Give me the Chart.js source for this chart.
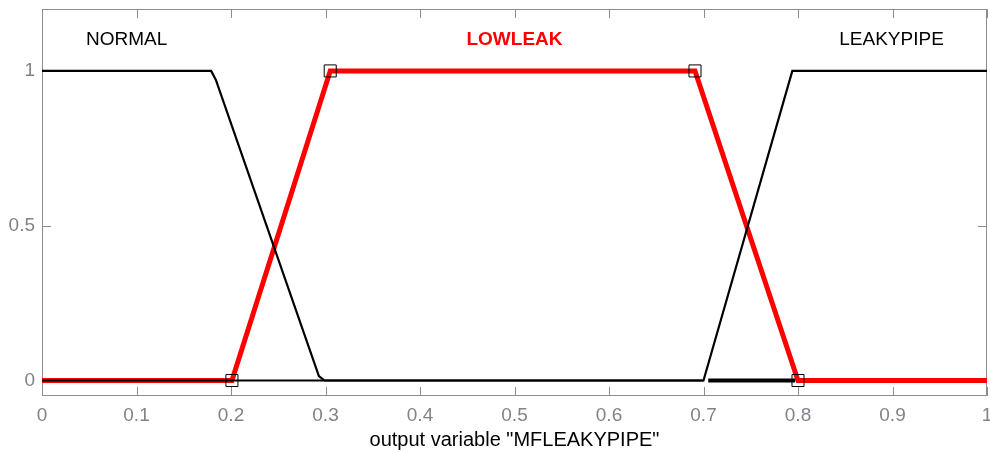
<!DOCTYPE html>
<html>
<head>
<meta charset="utf-8">
<script src="https://cdn.jsdelivr.net/npm/chart.js@4/dist/chart.umd.min.js"></script>
<style>
  html, body { margin: 0; padding: 0; background: #fff; }
  #mfChart { display: block; }
</style>
</head>
<body>
<canvas id="mfChart" width="990" height="452"></canvas>
<script>
// membership functions of output variable MFLEAKYPIPE
var normalX = [0, 0.179, 0.184, 0.293, 0.299, 0.7];
var normalY = [1, 1, 0.971, 0.014, 0, 0];
var leakyX = [0, 0.7, 0.794, 1];
var leakyY = [0, 0, 1, 1];
var lowleakX = [0, 0.201, 0.305, 0.691, 0.8, 1];
var lowleakY = [0, 0, 1, 1, 0, 0];
var markerX = [0.201, 0.305, 0.691, 0.8];
var markerY = [0, 1, 1, 0];
var boldX = [0.705, 0.797];
var boldY = [0, 0];

var xTicks = [0, 0.1, 0.2, 0.3, 0.4, 0.5, 0.6, 0.7, 0.8, 0.9, 1];
var yTicks = [0, 0.5, 1];

var mfNames = ["NORMAL", "LOWLEAK", "LEAKYPIPE"];
var mfLabelX = [0.0895, 0.5, 0.899];
var mfLabelY = 1.1;

function pts(xs, ys) {
    return xs.map(function (x, i) { return { x: x, y: ys[i] }; });
}

function noPad(scale) {
    scale.paddingLeft = 0;
    scale.paddingRight = 0;
    scale.paddingTop = 0;
    scale.paddingBottom = 0;
}

var tickColor = "#80838a";
var boxColor = "#8c8c8c";
var fontFamily = "'Liberation Sans', Arial, sans-serif";

var frame = {
    id: "frame",
    // box and inward ticks go under the lines, like matlab
    beforeDatasetsDraw: function (chart) {
        var ctx = chart.ctx;
        var a = chart.chartArea;
        var xs = chart.scales.x;
        var ys = chart.scales.y;
        ctx.save();
        ctx.strokeStyle = boxColor;
        ctx.lineWidth = 1;
        ctx.beginPath();
        ctx.rect(a.left + 0.5, a.top + 0.5, a.right - a.left - 1, a.bottom - a.top - 1);
        ctx.stroke();
        ctx.beginPath();
        xTicks.forEach(function (v) {
            var px = Math.round(xs.getPixelForValue(v)) + 0.5;
            ctx.moveTo(px, a.bottom);
            ctx.lineTo(px, a.bottom - 9);
            ctx.moveTo(px, a.top);
            ctx.lineTo(px, a.top + 9);
        });
        yTicks.forEach(function (v) {
            var py = Math.round(ys.getPixelForValue(v)) + 0.5;
            ctx.moveTo(a.left, py);
            ctx.lineTo(a.left + 9, py);
            ctx.moveTo(a.right, py);
            ctx.lineTo(a.right - 9, py);
        });
        ctx.stroke();
        ctx.restore();
    },
    afterDatasetsDraw: function (chart) {
        var ctx = chart.ctx;
        var xs = chart.scales.x;
        var ys = chart.scales.y;
        ctx.save();
        ctx.textAlign = "center";
        ctx.textBaseline = "middle";
        mfNames.forEach(function (name, i) {
            var bold = name === "LOWLEAK";
            ctx.font = (bold ? "bold " : "") + "19px " + fontFamily;
            ctx.fillStyle = bold ? "#ff0000" : "#000000";
            ctx.fillText(name, xs.getPixelForValue(mfLabelX[i]), ys.getPixelForValue(mfLabelY));
        });
        ctx.restore();
    }
};

var ctx = document.getElementById("mfChart").getContext("2d");
var mfChart = new Chart(ctx, {
    type: "line",
    data: {
        datasets: [
            {
                label: "points",
                data: pts(markerX, markerY),
                showLine: false,
                pointStyle: "rect",
                pointRadius: 8.5,
                pointBorderColor: "#000",
                pointBorderWidth: 1,
                pointBackgroundColor: "rgba(0,0,0,0)",
            },
            {
                label: "bold",
                data: pts(boldX, boldY),
                borderColor: "#000",
                borderWidth: 4,
                pointRadius: 0,
            },
            {
                label: "NORMAL",
                data: pts(normalX, normalY),
                borderColor: "#000",
                borderWidth: 2.2,
                pointRadius: 0,
            },
            {
                label: "LEAKYPIPE",
                data: pts(leakyX, leakyY),
                borderColor: "#000",
                borderWidth: 2.2,
                pointRadius: 0,
            },
            {
                label: "LOWLEAK",
                data: pts(lowleakX, lowleakY),
                borderColor: "#ff0000",
                borderWidth: 5,
                pointRadius: 0,
            },
        ],
    },
    options: {
        responsive: false,
        animation: false,
        layout: {
            autoPadding: false,
            padding: { top: 9, right: 3, left: 0, bottom: 0 },
        },
        elements: {
            line: { tension: 0 },
        },
        scales: {
            x: {
                type: "linear",
                min: 0,
                max: 1,
                grid: { display: false, drawTicks: false },
                border: { display: false },
                afterBuildTicks: function (scale) {
                    scale.ticks = xTicks.map(function (v) { return { value: v }; });
                },
                afterFit: function (scale) {
                    scale.height = 56;
                    noPad(scale);
                },
                ticks: {
                    color: tickColor,
                    padding: 8,
                    maxRotation: 0,
                    autoSkip: false,
                    font: { size: 19, family: fontFamily },
                    callback: function (v) { return String(Math.round(v * 10) / 10); },
                },
                title: {
                    display: true,
                    text: 'output variable "MFLEAKYPIPE"',
                    color: "#000",
                    padding: { top: 0, bottom: 0 },
                    font: { size: 20, family: fontFamily },
                },
            },
            y: {
                type: "linear",
                min: -0.05,
                max: 1.2,
                grid: { display: false, drawTicks: false },
                border: { display: false },
                afterBuildTicks: function (scale) {
                    scale.ticks = yTicks.map(function (v) { return { value: v }; });
                },
                afterFit: function (scale) {
                    scale.width = 42;
                    noPad(scale);
                },
                ticks: {
                    color: tickColor,
                    padding: 7,
                    font: { size: 19, family: fontFamily },
                    callback: function (v) { return String(v); },
                },
            },
        },
        plugins: {
            legend: { display: false },
            tooltip: { enabled: false },
        },
    },
    plugins: [frame],
});
</script>
</body>
</html>
